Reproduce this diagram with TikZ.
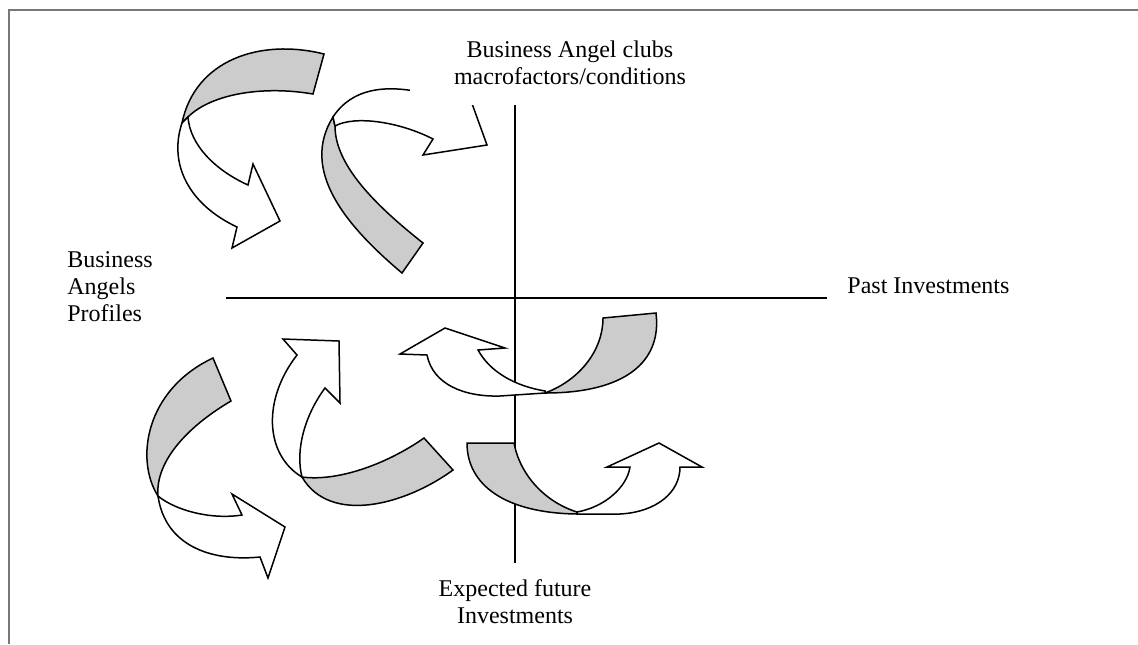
\documentclass[tikz,border=0pt]{standalone}
\usepackage{fontspec}
\setmainfont{Liberation Serif}
\definecolor{bandgray}{RGB}{204,204,204}
\definecolor{framegray}{RGB}{120,120,120}
\begin{document}
\begin{tikzpicture}[x=0.5pt,y=-0.5pt,
  axis/.style={line width=1pt,black},
  back/.style={draw=black,line width=0.75pt,fill=bandgray,line join=miter},
  front/.style={draw=black,line width=0.75pt,fill=white,line join=miter},
  lbl/.style={inner sep=0pt,font=\fontsize{12pt}{13.3pt}\selectfont}]
\useasboundingbox (0,0) rectangle (1138,644);
% frame
\draw[framegray,line width=1pt] (9,644) -- (9,10) -- (1138,10);
% axes
\draw[axis] (514.5,104) -- (514.5,563);
\draw[axis] (226,298) -- (827,298);
% arrow A (top left)
\path[back] (324,54) .. controls (260,38) and (195,60) .. (182,123) -- (188,117)
  .. controls (210,95) and (260,85) .. (313,94) -- cycle;
\path[front] (182,123) .. controls (168,165) and (190,205) .. (237,227) -- (232,248)
  -- (280,221) -- (253,164) -- (248,185) .. controls (215,170) and (190,145) .. (188,117) -- cycle;
% arrow B (top middle)
\path[back] (402,273) .. controls (345,225) and (300,170) .. (333,117) -- (335,126)
  .. controls (335,165) and (375,205) .. (423,243) -- cycle;
\path[front] (333,117) .. controls (352,88) and (385,85) .. (420,92) -- (450,96) -- (462,76)
  -- (487,145) -- (423,155) -- (433,139) .. controls (400,122) and (355,115) .. (335,126) -- cycle;
% arrow C (middle right)
\path[back] (603,318) -- (656,313) .. controls (662,362) and (625,393) .. (545,393)
  .. controls (580,380) and (603,350) .. (603,318) -- cycle;
\path[front] (545,393) -- (500,396) .. controls (465,397) and (433,385) .. (427,355) -- (400,354)
  -- (445,328) -- (505,348) -- (478,350) .. controls (490,372) and (515,386) .. (545,391) -- cycle;
% arrow D (lower right)
\path[back] (467,443) -- (514,443) .. controls (520,475) and (545,502) .. (577,512) -- (577,514)
  .. controls (505,513) and (467,485) .. (467,443) -- cycle;
\path[front] (577,514) -- (620,514) .. controls (657,512) and (680,492) .. (680,467) -- (702,467)
  -- (659,443) -- (607,467) -- (630,467) .. controls (627,487) and (605,507) .. (577,512) -- cycle;
% arrow E (lower left)
\path[back] (213,358) -- (231,401) .. controls (190,425) and (155,460) .. (158,496)
  .. controls (135,460) and (145,390) .. (213,358) -- cycle;
\path[front] (158,496) .. controls (175,510) and (210,520) .. (242,515) -- (232,494) -- (285,527)
  -- (268,578) -- (260,557) .. controls (210,562) and (165,545) .. (158,496) -- cycle;
% arrow F (lower middle)
\path[back] (424,438) -- (453,470) .. controls (405,505) and (330,525) .. (302,477)
  .. controls (340,482) and (390,462) .. (424,438) -- cycle;
\path[front] (302,477) .. controls (265,455) and (262,400) .. (297,355) -- (283,339) -- (339,341)
  -- (340,403) -- (325,388) .. controls (305,415) and (295,450) .. (302,477) -- cycle;
% white box behind the top label
\fill[white] (410,20) rectangle (735,104.5);
% labels
\node[lbl,align=center,anchor=north] (clubs) at (570,40.6) {Business Angel clubs\\macrofactors/conditions};
\node[lbl,align=left,anchor=north west] (profiles) at (67,251.6) {Business\\Angels\\Profiles};
\node[lbl,anchor=north west] (past) at (847,277.4) {Past Investments};
\node[lbl,align=center,anchor=north] (future) at (515,579.6) {Expected future\\Investments};
\end{tikzpicture}
\end{document}
